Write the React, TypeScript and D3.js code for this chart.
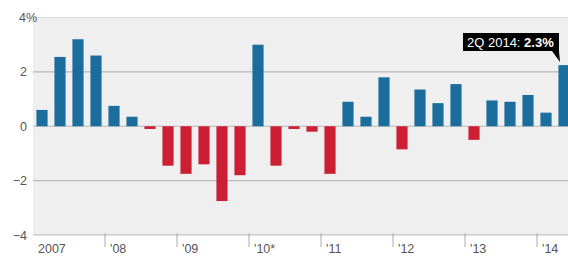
import React, { useEffect, useRef } from "react";
import * as d3 from "d3";

const years = ["2007", "'08", "'09", "'10*", "'11", "'12", "'13", "'14"];
const quarters = [
  "1Q07", "2Q07", "3Q07", "4Q07",
  "1Q08", "2Q08", "3Q08", "4Q08",
  "1Q09", "2Q09", "3Q09", "4Q09",
  "1Q10", "2Q10", "3Q10", "4Q10",
  "1Q11", "2Q11", "3Q11", "4Q11",
  "1Q12", "2Q12", "3Q12", "4Q12",
  "1Q13", "2Q13", "3Q13", "4Q13",
  "1Q14", "2Q14",
];
const values = [
  0.6, 2.55, 3.2, 2.6,
  0.75, 0.35, -0.1, -1.45,
  -1.75, -1.4, -2.75, -1.8,
  3.0, -1.45, -0.1, -0.2,
  -1.75, 0.9, 0.35, 1.8,
  -0.85, 1.35, 0.85, 1.55,
  -0.5, 0.95, 0.9, 1.15,
  0.5, 2.25,
];
const yTicks = [-4, -2, 0, 2, 4];
const callout = { label: "2Q 2014: ", value: "2.3%" };

const W = 568;
const H = 257;

export default function App() {
  const svgRef = useRef<SVGSVGElement>(null);

  useEffect(() => {
    if (!svgRef.current) return;
    const svg = d3.select(svgRef.current);
    svg.selectAll("*").remove();

    const left = 33;
    const top = 17.5;
    const bottom = 235;

    const x = d3
      .scaleBand<string>()
      .domain(quarters)
      .range([left, left + quarters.length * 18])
      .paddingInner(0.38)
      .paddingOuter(0.19);

    const y = d3.scaleLinear().domain([-4, 4]).range([bottom, top]);

    const font = "'Liberation Sans', Arial, sans-serif";

    svg
      .append("rect")
      .attr("x", left)
      .attr("y", top)
      .attr("width", W - left)
      .attr("height", bottom - top)
      .attr("fill", "#efefef");

    // gridlines
    svg
      .append("g")
      .selectAll("line")
      .data(yTicks)
      .enter()
      .append("line")
      .attr("x1", left)
      .attr("x2", W)
      .attr("y1", (d) => y(d))
      .attr("y2", (d) => y(d))
      .attr("stroke", (d) => (d === 4 ? "#dcdcdc" : "#b9b9b9"))
      .attr("stroke-width", 1.2);

    // y labels
    const yl = svg
      .append("g")
      .selectAll("text")
      .data(yTicks)
      .enter()
      .append("text")
      .attr("x", 27)
      .attr("y", (d) => y(d) + 4.5)
      .attr("text-anchor", "end")
      .style("font-family", font)
      .style("font-size", "12.5px")
      .style("fill", "#555")
      .text((d) => (d < 0 ? `\u2212${Math.abs(d)}` : `${d}`));
    yl.filter((d) => d === 4)
      .attr("text-anchor", "start")
      .attr("x", 19)
      .text("4%");

    // bars
    svg
      .append("g")
      .selectAll("rect")
      .data(values)
      .enter()
      .append("rect")
      .attr("x", (_d, i) => x(quarters[i]) || 0)
      .attr("width", x.bandwidth())
      .attr("y", (d) => y(Math.max(0, d)))
      .attr("height", (d) => Math.abs(y(d) - y(0)))
      .attr("fill", (d) => (d >= 0 ? "#1b6d9e" : "#cc1f33"));

    // year ticks + labels
    const off = x.step() * 0.19;
    const yg = svg.append("g");
    years.forEach((yr, k) => {
      const tx = (x(quarters[k * 4]) || 0) - off;
      if (k > 0) {
        yg.append("line")
          .attr("x1", tx)
          .attr("x2", tx)
          .attr("y1", bottom - 2)
          .attr("y2", bottom + 12)
          .attr("stroke", "#aaa")
          .attr("stroke-width", 1);
      }
      yg.append("text")
        .attr("x", tx + 5)
        .attr("y", 253)
        .style("font-family", font)
        .style("font-size", "12.5px")
        .style("fill", "#555")
        .text(yr);
    });

    // callout
    const last = quarters[quarters.length - 1];
    const bx = (x(last) || 0) + x.bandwidth() / 2;
    const by = y(values[values.length - 1]);
    const boxR = bx - 5;
    const boxL = boxR - 96;
    const boxT = 33;
    const boxB = 51;
    const cg = svg.append("g");
    cg.append("rect")
      .attr("x", boxL)
      .attr("y", boxT)
      .attr("width", boxR - boxL)
      .attr("height", boxB - boxT)
      .attr("fill", "#000");
    cg.append("path")
      .attr("d", `M${boxR - 7},${boxB} L${boxR},${boxB} L${boxR + 1},${by - 3} Z`)
      .attr("fill", "#000");
    const t = cg
      .append("text")
      .attr("x", boxL + 4)
      .attr("y", boxB - 4.5)
      .style("font-family", font)
      .style("font-size", "13px")
      .style("fill", "#fff");
    t.append("tspan").text(callout.label);
    t.append("tspan").style("font-weight", "bold").text(callout.value);
  }, []);

  return (
    <svg
      ref={svgRef}
      width={W}
      height={H}
      style={{ position: "absolute", left: 0, top: 0, background: "#fff" }}
    />
  );
}
